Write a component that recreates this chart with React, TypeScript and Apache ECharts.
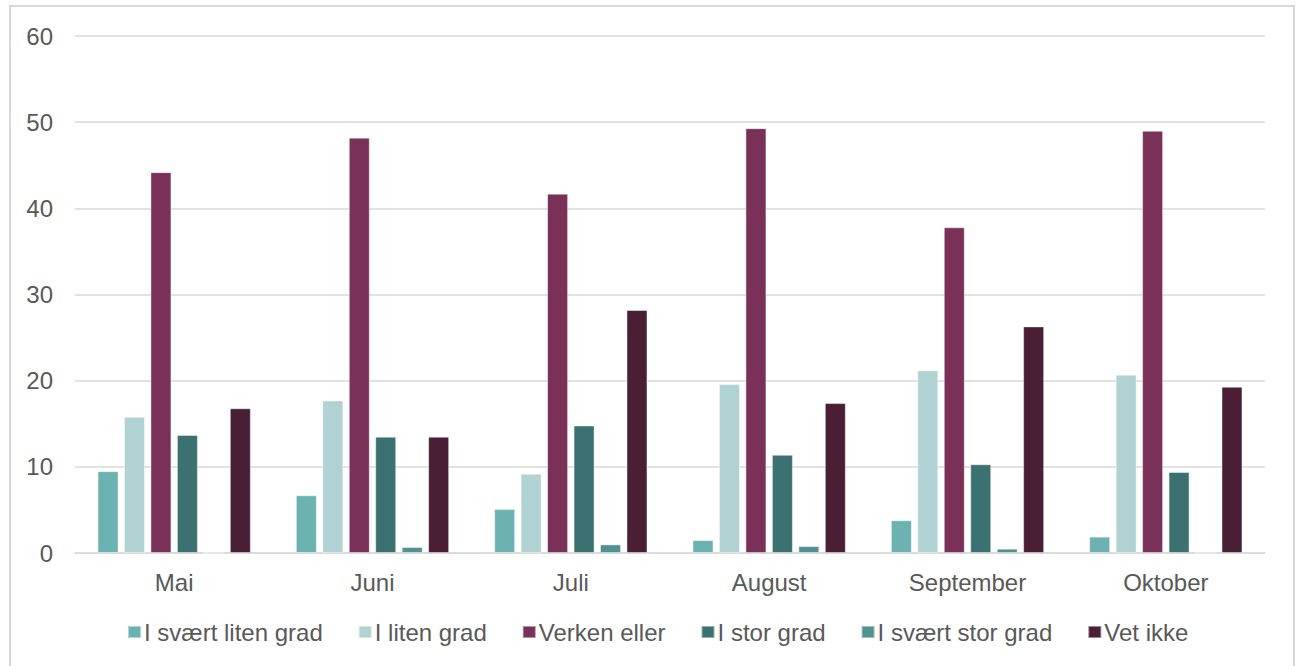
import React, { useEffect, useRef } from "react";
import * as echarts from "echarts";

const categories = ["Mai", "Juni", "Juli", "August", "September", "Oktober"];
const seriesNames = [
  "I svært liten grad",
  "I liten grad",
  "Verken eller",
  "I stor grad",
  "I svært stor grad",
  "Vet ikke",
];
const sværtLiten = [9.5, 6.7, 5.1, 1.5, 3.8, 1.9];
const liten = [15.8, 17.7, 9.2, 19.6, 21.2, 20.7];
const verken = [44.2, 48.2, 41.7, 49.3, 37.8, 49.0];
const stor = [13.7, 13.5, 14.8, 11.4, 10.3, 9.4];
const sværtStor = [0, 0.7, 1.0, 0.8, 0.5, 0];
const vetIkke = [16.8, 13.5, 28.2, 17.4, 26.3, 19.3];
const colors = ["#6CB2B1", "#B0D2D3", "#7A3158", "#3B7170", "#529191", "#4A1F35"];
const yTicks = [0, 10, 20, 30, 40, 50, 60];

export default function App() {
  const ref = useRef<HTMLDivElement>(null);
  useEffect(() => {
    if (!ref.current) return;
    const chart = echarts.init(ref.current, null, { renderer: "svg" });
    const values = [sværtLiten, liten, verken, stor, sværtStor, vetIkke];
    const font = "'Liberation Sans', Arial, sans-serif";
    chart.setOption({
      animation: false,
      backgroundColor: "#ffffff",
      textStyle: { fontFamily: font },
      grid: { left: 75, right: 35, top: 36, bottom: 113, containLabel: false },
      xAxis: {
        type: "category",
        data: categories,
        axisLine: { lineStyle: { color: "#d9d9d9", width: 1.5 } },
        axisTick: { show: false },
        axisLabel: { color: "#595959", fontSize: 24, fontFamily: font, margin: 17 },
      },
      yAxis: {
        type: "value",
        min: yTicks[0],
        max: yTicks[yTicks.length - 1],
        interval: 10,
        axisLine: { show: false },
        axisTick: { show: false },
        splitLine: { lineStyle: { color: "#d9d9d9", width: 1.5 } },
        axisLabel: { color: "#595959", fontSize: 24, fontFamily: font, margin: 22 },
      },
      legend: {
        top: 615,
        left: 122,
        icon: "rect",
        itemWidth: 13,
        itemHeight: 12,
        itemGap: 35,
        textStyle: { color: "#595959", fontSize: 24, fontFamily: font, padding: [0, 0, 0, -2] },
        data: seriesNames,
      },
      graphic: [
        {
          type: "rect",
          shape: { x: 10, y: 6, width: 1284, height: 680 },
          style: { fill: "none", stroke: "#d9d9d9", lineWidth: 2 },
          silent: true,
        },
      ],
      series: seriesNames.map((name, i) => ({
        name,
        type: "bar",
        data: values[i],
        barWidth: 21,
        barGap: "26%",
        itemStyle: { color: colors[i], borderColor: "rgba(255,255,255,0.45)", borderWidth: 1 },
        emphasis: { disabled: true },
      })),
    });
    return () => chart.dispose();
  }, []);
  return (
    <div
      ref={ref}
      style={{ position: "fixed", left: 0, top: 0, width: 1300, height: 666 }}
    />
  );
}
